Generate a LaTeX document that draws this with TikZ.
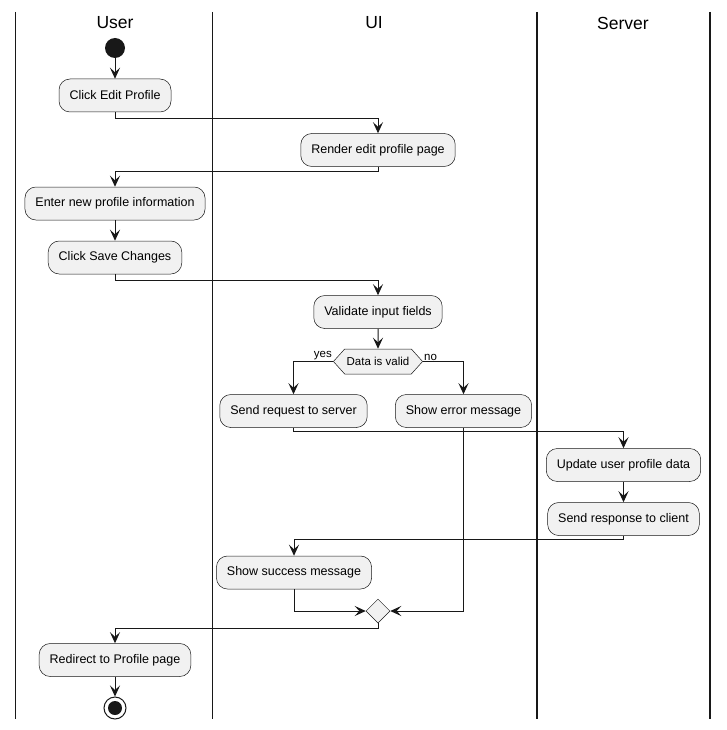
\documentclass[tikz,border=0pt]{standalone}
\usepackage{fontspec}
\setmainfont{Liberation Sans}
\usetikzlibrary{arrows.meta,shapes.geometric,shapes.symbols}
\definecolor{ink}{HTML}{181818}
\definecolor{boxfill}{HTML}{F1F1F1}
\tikzset{
  act/.style={draw=ink, line width=0.5pt, fill=boxfill, rounded corners=11pt,
    minimum height=33pt, inner xsep=10.5pt, font=\fontsize{12.5}{14}\selectfont},
  flow/.style={draw=ink, line width=1pt, -{Stealth[length=11pt,width=10pt,inset=4.5pt]}},
  lane/.style={draw=ink, line width=1.8pt},
  title/.style={font=\fontsize{17.5}{20}\selectfont},
  small/.style={font=\fontsize{11.5}{13}\selectfont, inner sep=1pt}
}
\begin{document}
\begin{tikzpicture}[x=1pt,y=-1pt]
\useasboundingbox[fill=white] (0,0) rectangle (727,730);
% lanes
\coordinate (l1t) at (15.5,12); \coordinate (l1b) at (15.5,719);
\coordinate (l2t) at (212.5,12); \coordinate (l2b) at (212.5,719);
\coordinate (l3t) at (537,12); \coordinate (l3b) at (537,719);
\coordinate (l4t) at (710,12); \coordinate (l4b) at (710,719);
\draw[lane] (l1t) -- (l1b);
\draw[lane] (l2t) -- (l2b);
\draw[lane] (l3t) -- (l3b);
\draw[lane] (l4t) -- (l4b);
\node[title] (tUser) at (115,23) {User};
\node[title] (tUI) at (374,23) {UI};
\node[title] (tServer) at (623,23) {Server};
% nodes
\node[circle, fill=ink, minimum size=20pt, inner sep=0pt] (start) at (115,48) {};
\node[act] (click) at (115,95.5) {Click Edit Profile};
\node[act] (render) at (378,150) {Render edit profile page};
\node[act] (enter) at (115,203.5) {Enter new profile information};
\node[act] (save) at (115,257.5) {Click Save Changes};
\node[act] (valid) at (378,312) {Validate input fields};
\node[draw=ink, line width=0.5pt, fill=boxfill, shape=signal, signal to=east and west,
  signal pointer angle=96, minimum height=25pt, inner xsep=2pt, inner ysep=2pt,
  font=\fontsize{11.5}{13}\selectfont] (dec) at (378,361.5) {Data is valid};
\node[act] (send) at (293.5,411) {Send request to server};
\node[act] (err) at (463.5,411) {Show error message};
\node[act] (upd) at (623.5,465) {Update user profile data};
\node[act] (resp) at (623.5,519) {Send response to client};
\node[act] (succ) at (294,572.5) {Show success message};
\node[diamond, draw=ink, line width=0.5pt, fill=boxfill, minimum size=24pt, inner sep=0pt] (merge) at (378,611) {};
\node[act] (redir) at (115,660) {Redirect to Profile page};
\node[circle, draw=ink, line width=1pt, fill=white, minimum size=22pt, inner sep=0pt] (stop) at (115,708) {};
\node[circle, fill=ink, minimum size=14pt, inner sep=0pt] (stopin) at (115,708) {};
% labels
\node[small, anchor=south east] (yes) at (dec.west) {yes};
\node[small, anchor=south west] (no) at (dec.east) {no};
% connectors
\draw[flow] (start) -- (click);
\draw[flow] (click.south) -- ++(0,6) -| (render.north);
\draw[flow] (render.south) -- ++(0,5) -| (enter.north);
\draw[flow] (enter) -- (save);
\draw[flow] (save.south) -- ++(0,6) -| (valid.north);
\draw[flow] (valid) -- (dec);
\draw[flow] (dec.west) -| (send.north);
\draw[flow] (dec.east) -| (err.north);
\draw[flow] (send.south) -- ++(0,4) -| (upd.north);
\draw[flow] (upd) -- (resp);
\draw[flow] (resp.south) -- ++(0,4) -| (succ.north);
\draw[flow] (succ.south) |- (merge.west);
\draw[flow] (err.south) |- (merge.east);
\draw[flow] (merge.south) -- ++(0,5) -| (redir.north);
\draw[flow] (redir) -- (stop);
\end{tikzpicture}
\end{document}
